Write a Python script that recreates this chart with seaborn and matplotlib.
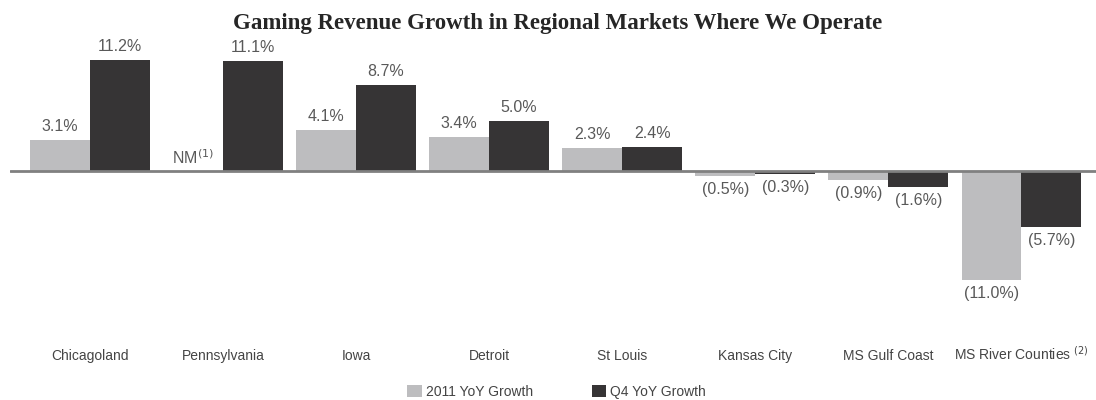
import numpy as np
import pandas as pd
import matplotlib
matplotlib.use("Agg")
import matplotlib.pyplot as plt
import seaborn as sns

categories = ["Chicagoland", "Pennsylvania", "Iowa", "Detroit", "St Louis",
              "Kansas City", "MS Gulf Coast", "MS River Counties"]
growth_2011 = [3.1, np.nan, 4.1, 3.4, 2.3, -0.5, -0.9, -11.0]
growth_q4 = [11.2, 11.1, 8.7, 5.0, 2.4, -0.3, -1.6, -5.7]
series_names = ["2011 YoY Growth", "Q4 YoY Growth"]
tick_labels = ["Chicagoland", "Pennsylvania", "Iowa", "Detroit", "St Louis",
               "Kansas City", "MS Gulf Coast", "MS River Counties $^{(2)}$"]
colors = ["#bdbdbf", "#363435"]

df = pd.DataFrame({
    "Market": categories * 2,
    "Series": [series_names[0]] * len(categories) + [series_names[1]] * len(categories),
    "Growth": growth_2011 + growth_q4,
})

sns.set_style("white")
plt.rcParams["font.family"] = ["Liberation Sans", "DejaVu Sans"]

fig = plt.figure(figsize=(10.96, 4.0), dpi=100)
ax = fig.add_axes([10 / 1096, 0.15, 1 - 10 / 1096, 0.8875 - 0.15])

sns.barplot(data=df, x="Market", y="Growth", hue="Series", order=categories,
            hue_order=series_names, palette=colors, width=0.9, ax=ax,
            legend=True, saturation=1, edgecolor="none")

ax.set_xlim(-0.6, 7.56)
ax.set_ylim(-17.05, 12.7)
ax.axhline(0, color="#808080", lw=2, zorder=5)
for s in ax.spines.values():
    s.set_visible(False)
ax.set_yticks([])
ax.set_xlabel("")
ax.set_ylabel("")
ax.tick_params(axis="x", length=0, pad=14.5, labelsize=10, labelcolor="#444444")
ax.set_xticks(range(len(categories)))
ax.set_xticklabels(tick_labels)
for lbl in ax.get_xticklabels():
    lbl.set_verticalalignment("baseline")

lab_color = "#595959"
for cont in ax.containers:
    for bar in cont:
        h = bar.get_height()
        if np.isnan(h):
            continue
        xc = bar.get_x() + bar.get_width() / 2
        if h >= 0:
            ax.text(xc, h + 0.6, f"{h:.1f}%", ha="center", va="bottom",
                    fontsize=11.5, color=lab_color)
        else:
            ax.text(xc, h - 0.6, f"({abs(h):.1f}%)", ha="center", va="top",
                    fontsize=11.5, color=lab_color)

# NM label for missing Pennsylvania 2011 value
nm_idx = categories.index("Pennsylvania")
ax.text(nm_idx - 0.225, 0.4, "NM$^{(1)}$", ha="center", va="bottom",
        fontsize=11.5, color=lab_color)

handles, labels = ax.get_legend_handles_labels()
ax.get_legend().remove()
fig.legend(handles, labels, loc="center", bbox_to_anchor=(0.508, 0.02),
           ncol=2, frameon=False, fontsize=10, handlelength=1.05,
           handleheight=1.0, columnspacing=4.2, handletextpad=0.3,
           labelcolor="#444444")

fig.suptitle("Gaming Revenue Growth in Regional Markets Where We Operate",
             x=0.509, y=0.968, fontsize=16.5, fontweight="bold",
             family="Liberation Serif")

fig.savefig("out.png", dpi=100)
